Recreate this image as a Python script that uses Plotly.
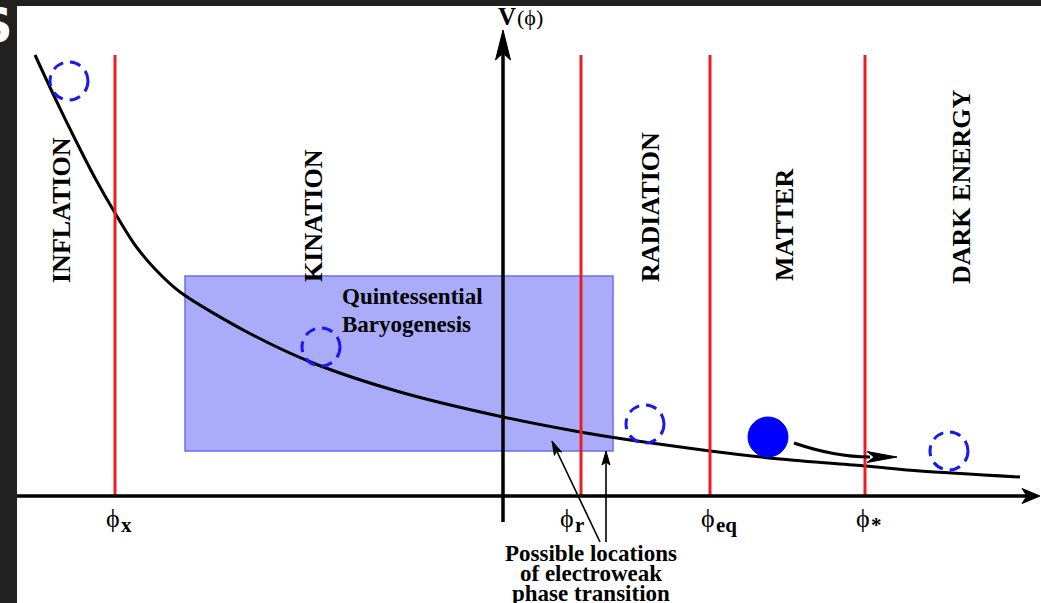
import math
import plotly.graph_objects as go

# ---------------- data (phi / V units) ----------------
PHASE_NAMES = ["INFLATION", "KINATION", "RADIATION", "MATTER", "DARK ENERGY"]
PHASE_LABEL_PHI = [-4.42, -1.90, 1.47, 2.81, 4.58]
PHASE_LABEL_V = [2.86, 2.80, 2.89, 2.71, 3.09]

BOUNDARY_SUB = ["x", "r", "eq", "*"]
BOUNDARY_PHI = [-3.88, 0.78, 2.07, 3.62]
BOUNDARY_TOP_V = 4.41

CURVE_PHI = [-4.68, -4.48, -4.28, -4.08, -3.88, -3.68, -3.48, -3.23, -2.56,
             -1.90, -1.03, 0.00, 0.77, 1.27, 2.07, 2.77, 3.62, 4.17, 5.17]
CURVE_V = [4.41, 3.98, 3.57, 3.18, 2.83, 2.51, 2.27, 2.04, 1.64,
           1.33, 1.04, 0.79, 0.64, 0.56, 0.45, 0.37, 0.30, 0.25, 0.19]

EMPTY_BALL_PHI = [-4.34, -1.82, 1.42, 4.46]
EMPTY_BALL_V = [4.15, 1.49, 0.72, 0.45]
BALL_R = 0.19
SOLID_BALL_PHI = 2.65
SOLID_BALL_V = 0.59
SOLID_BALL_R = 0.20

QB_PHI = [-3.18, 1.10]
QB_V = [0.45, 2.20]
QB_TEXT = ["Quintessential", "Baryogenesis"]

EW_TEXT = ["Possible locations", "of electroweak", "phase transition"]
EW_TAIL_PHI = [0.97, 1.03]
EW_TAIL_V = [-0.46, -0.46]
EW_TIP_PHI = [0.49, 1.03]
EW_TIP_V = [0.55, 0.45]

ROLL_PHI = [2.91, 3.32, 3.67, 3.94]   # start, control, shaft end, tip
ROLL_V = [0.53, 0.39, 0.39, 0.39]

AXIS_PHI = [-4.86, 5.37]
AXIS_V = [-0.26, 4.66]

# ---------------- styling ----------------
BLACK = "black"
RED = "rgb(236,28,36)"
BLUE = "rgb(0,0,255)"
DASHBLUE = "rgb(25,25,235)"
SERIF = "Liberation Serif, Times New Roman, DejaVu Serif, serif"
DARK = "#212121"


def head(tx, ty, fx, fy, L, W, notch):
    dx, dy = tx - fx, ty - fy
    n = math.hypot(dx, dy)
    dx, dy = dx / n, dy / n
    px, py = -dy, dx
    bx, by = tx - dx * L, ty - dy * L
    nx, ny = tx - dx * (L - notch), ty - dy * (L - notch)
    return (f"M{tx},{ty} L{bx + px * W / 2},{by + py * W / 2} "
            f"L{nx},{ny} L{bx - px * W / 2},{by - py * W / 2} Z")


fig = go.Figure()

shapes = []
shapes.append(dict(type="rect", xref="x", yref="y", x0=QB_PHI[0], x1=QB_PHI[1],
                   y0=QB_V[0], y1=QB_V[1], fillcolor="rgb(170,172,250)",
                   line=dict(color="rgb(105,110,245)", width=1.5), layer="below"))
for p in BOUNDARY_PHI:
    shapes.append(dict(type="line", xref="x", yref="y", x0=p, x1=p, y0=0,
                       y1=BOUNDARY_TOP_V, line=dict(color=RED, width=3), layer="above"))
shapes.append(dict(type="line", xref="x", yref="y", x0=AXIS_PHI[0], x1=AXIS_PHI[1] - 0.1,
                   y0=0, y1=0, line=dict(color=BLACK, width=3.5), layer="above"))
shapes.append(dict(type="path", xref="x", yref="y",
                   path=head(AXIS_PHI[1], 0, 0, 0, 0.18, 0.15, 0.05),
                   fillcolor=BLACK, line=dict(color=BLACK, width=1), layer="above"))
shapes.append(dict(type="line", xref="x", yref="y", x0=0, x1=0, y0=AXIS_V[0],
                   y1=AXIS_V[1] - 0.2, line=dict(color=BLACK, width=3.5), layer="above"))
shapes.append(dict(type="path", xref="x", yref="y",
                   path=head(0, AXIS_V[1], 0, 0, 0.30, 0.15, 0.07),
                   fillcolor=BLACK, line=dict(color=BLACK, width=1), layer="above"))
for tx, ty, fx, fy in zip(EW_TIP_PHI, EW_TIP_V, EW_TAIL_PHI, EW_TAIL_V):
    shapes.append(dict(type="line", xref="x", yref="y", x0=fx, y0=fy, x1=tx, y1=ty,
                       line=dict(color=BLACK, width=1.6), layer="above"))
    shapes.append(dict(type="path", xref="x", yref="y",
                       path=head(tx, ty, fx, fy, 0.14, 0.08, 0.03),
                       fillcolor=BLACK, line=dict(color=BLACK, width=1), layer="above"))
for p, v in zip(EMPTY_BALL_PHI, EMPTY_BALL_V):
    shapes.append(dict(type="circle", xref="x", yref="y", x0=p - BALL_R, x1=p + BALL_R,
                       y0=v - BALL_R, y1=v + BALL_R,
                       line=dict(color=DASHBLUE, width=3, dash="11px,7px"), layer="above"))
shapes.append(dict(type="circle", xref="x", yref="y",
                   x0=SOLID_BALL_PHI - SOLID_BALL_R, x1=SOLID_BALL_PHI + SOLID_BALL_R,
                   y0=SOLID_BALL_V - SOLID_BALL_R, y1=SOLID_BALL_V + SOLID_BALL_R,
                   fillcolor=BLUE, line=dict(color=BLUE, width=1), layer="above"))
shapes.append(dict(type="path", xref="x", yref="y",
                   path=f"M{ROLL_PHI[0]},{ROLL_V[0]} Q{ROLL_PHI[1]},{ROLL_V[1]} {ROLL_PHI[2]},{ROLL_V[2]}",
                   line=dict(color=BLACK, width=3), layer="above"))
shapes.append(dict(type="path", xref="x", yref="y",
                   path=head(ROLL_PHI[3], ROLL_V[3], ROLL_PHI[2], ROLL_V[2], 0.30, 0.11, 0.07),
                   fillcolor=BLACK, line=dict(color=BLACK, width=1), layer="above"))

fig.add_trace(go.Scatter(x=CURVE_PHI, y=CURVE_V, mode="lines",
                         line=dict(color=BLACK, width=3, shape="spline", smoothing=0.8),
                         hoverinfo="skip", showlegend=False))

ann = []
for name, p, v in zip(PHASE_NAMES, PHASE_LABEL_PHI, PHASE_LABEL_V):
    ann.append(dict(x=p, y=v, xref="x", yref="y", text=f"<b>{name}</b>", textangle=-90,
                    showarrow=False, font=dict(family=SERIF, size=26, color=BLACK),
                    xanchor="center", yanchor="middle"))
phi_offsets = [-0.02, -0.14, -0.02, -0.02]
for s, p, o in zip(BOUNDARY_SUB, BOUNDARY_PHI, phi_offsets):
    ann.append(dict(x=p + o, y=-0.22, xref="x", yref="y", text="ϕ", showarrow=False,
                    font=dict(family=SERIF, size=26, color=BLACK),
                    xanchor="center", yanchor="middle"))
    ann.append(dict(x=p + o + 0.06, y=-0.29, xref="x", yref="y", text=f"<b>{s}</b>",
                    showarrow=False, font=dict(family=SERIF, size=21, color=BLACK),
                    xanchor="left", yanchor="middle"))
for t, v in zip(QB_TEXT, [2.00, 1.72]):
    ann.append(dict(x=-1.63, y=v, xref="x", yref="y", text=f"<b>{t}</b>", showarrow=False,
                    font=dict(family=SERIF, size=23, color=BLACK),
                    xanchor="left", yanchor="middle"))
for t, v in zip(EW_TEXT, [-0.57, -0.77, -0.97]):
    ann.append(dict(x=0.88, y=v, xref="x", yref="y", text=f"<b>{t}</b>", showarrow=False,
                    font=dict(family=SERIF, size=23, color=BLACK),
                    xanchor="center", yanchor="middle"))
ann.append(dict(x=0.035, y=4.80, xref="x", yref="y", text="<b>V</b>", showarrow=False,
                font=dict(family=SERIF, size=25, color=BLACK), xanchor="center", yanchor="middle"))
ann.append(dict(x=0.12, y=4.79, xref="x", yref="y", text="(ϕ)", showarrow=False,
                font=dict(family=SERIF, size=22, color=BLACK), xanchor="left", yanchor="middle"))
ann.append(dict(x=5.46, y=-0.15, xref="x", yref="y", text="ϕ", showarrow=False,
                font=dict(family=SERIF, size=22, color=BLACK), xanchor="center", yanchor="middle"))
ann.append(dict(x=-0.002, y=0.968, xref="paper", yref="paper", text="<b>S</b>", showarrow=False,
                font=dict(family="DejaVu Sans, sans-serif", size=48, color="white"),
                xanchor="right", yanchor="middle"))

fig.update_layout(
    width=1041, height=603,
    margin=dict(l=17, r=0, t=6, b=0, pad=0),
    paper_bgcolor=DARK, plot_bgcolor="white",
    shapes=shapes, annotations=ann, showlegend=False,
    xaxis=dict(range=[-4.86, 5.38], visible=False, fixedrange=True),
    yaxis=dict(range=[-1.07, 4.90], visible=False, fixedrange=True),
)

fig.write_html(
    "out.html",
    config={"displayModeBar": False},
    post_script="document.body.style.margin='0';document.body.style.overflow='hidden';",
)
